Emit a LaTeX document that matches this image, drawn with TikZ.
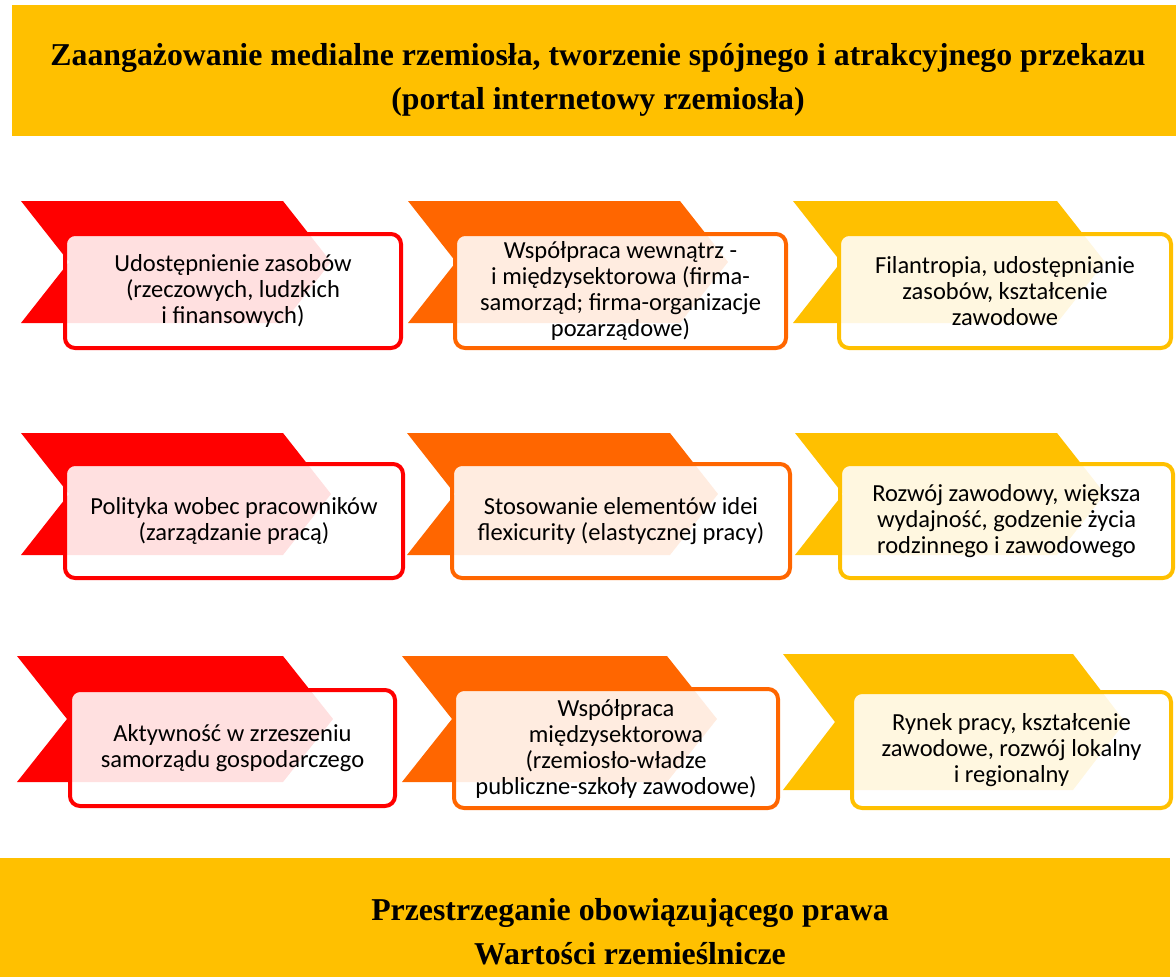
\documentclass[tikz,border=0pt]{standalone}
\usepackage{fontspec}
\setmainfont{Liberation Serif}
\newfontfamily\boxfont{Carlito}
\usepackage{tikz}
\usetikzlibrary{positioning}

\definecolor{redc}{HTML}{FF0000}
\definecolor{orangec}{HTML}{FF6600}
\definecolor{yellowc}{HTML}{FFC000}

\tikzset{
  box/.style={rectangle, rounded corners=10pt, line width=4pt, fill=white, fill opacity=0.88, text opacity=1,
    align=center, inner sep=0pt, font=\boxfont\fontsize{24.5}{26}\selectfont},
  bannertext/.style={align=center, font=\bfseries\fontsize{31.8}{44}\selectfont}
}

\begin{document}
\begin{tikzpicture}[x=1pt,y=-1pt]
  \useasboundingbox (0,0) rectangle (1176,977);

  % banners
  \fill[yellowc] (12,5) rectangle (1176,136);
  \fill[yellowc] (0,858) rectangle (1170,977);
  \node[bannertext] (head) at (598,80) {Zaangażowanie medialne rzemiosła, tworzenie spójnego i atrakcyjnego przekazu\\(portal internetowy rzemiosła)};
  \node[bannertext] (foot) at (630,932) {Przestrzeganie obowiązującego prawa\\Wartości rzemieślnicze};

  % first row
  \fill[redc] (21,201) -- ++(262,0) -- ++(48,61) -- ++(-48,61) -- ++(-262,0) -- ++(48,-61) -- cycle;
  \fill[orangec] (408,201) -- ++(272,0) -- ++(48,61) -- ++(-48,61) -- ++(-272,0) -- ++(48,-61) -- cycle;
  \fill[yellowc] (793,201) -- ++(264,0) -- ++(48,61) -- ++(-48,61) -- ++(-264,0) -- ++(48,-61) -- cycle;
  \node[box, draw=redc, minimum width=336pt, minimum height=114pt] (r1) at (233,291) {Udostępnienie zasobów\\(rzeczowych, ludzkich\\i finansowych)};
  \node[box, draw=orangec, minimum width=331pt, minimum height=114pt] (o1) at (620.5,291) {Współpraca wewnątrz -\\i międzysektorowa (firma-\\samorząd; firma-organizacje\\pozarządowe)};
  \node[box, draw=yellowc, minimum width=332pt, minimum height=114pt] (y1) at (1005,291) {Filantropia, udostępnianie\\zasobów, kształcenie\\zawodowe};

  % second row
  \fill[redc] (21,433) -- ++(262,0) -- ++(48,61) -- ++(-48,61) -- ++(-262,0) -- ++(48,-61) -- cycle;
  \fill[orangec] (407,433) -- ++(263,0) -- ++(48,61) -- ++(-48,61) -- ++(-263,0) -- ++(48,-61) -- cycle;
  \fill[yellowc] (795,433) -- ++(262,0) -- ++(48,61) -- ++(-48,61) -- ++(-262,0) -- ++(48,-61) -- cycle;
  \node[box, draw=redc, minimum width=338pt, minimum height=114pt] (r2) at (234,521) {Polityka wobec pracowników\\(zarządzanie pracą)};
  \node[box, draw=orangec, minimum width=338pt, minimum height=114pt] (o2) at (621,521) {Stosowanie elementów idei\\flexicurity (elastycznej pracy)};
  \node[box, draw=yellowc, minimum width=333pt, minimum height=114pt] (y2) at (1006.5,521) {Rozwój zawodowy, większa\\wydajność, godzenie życia\\rodzinnego i zawodowego};

  % third row
  \fill[redc] (17,656) -- ++(266,0) -- ++(50,63) -- ++(-50,63) -- ++(-266,0) -- ++(50,-63) -- cycle;
  \fill[orangec] (402,656) -- ++(265,0) -- ++(50,63) -- ++(-50,63) -- ++(-265,0) -- ++(50,-63) -- cycle;
  \fill[yellowc] (783,654) -- ++(290,0) -- ++(52,68) -- ++(-52,68) -- ++(-290,0) -- ++(52,-68) -- cycle;
  \node[box, draw=redc, minimum width=325pt, minimum height=116pt] (r3) at (232.5,748) {Aktywność w zrzeszeniu\\samorządu gospodarczego};
  \node[box, draw=orangec, minimum width=324pt, minimum height=119pt] (o3) at (616,748.5) {Współpraca\\międzysektorowa\\(rzemiosło-władze\\publiczne-szkoły zawodowe)};
  \node[box, draw=yellowc, minimum width=319pt, minimum height=116pt] (y3) at (1011.5,750) {Rynek pracy, kształcenie\\zawodowe, rozwój lokalny\\i regionalny};
\end{tikzpicture}
\end{document}
